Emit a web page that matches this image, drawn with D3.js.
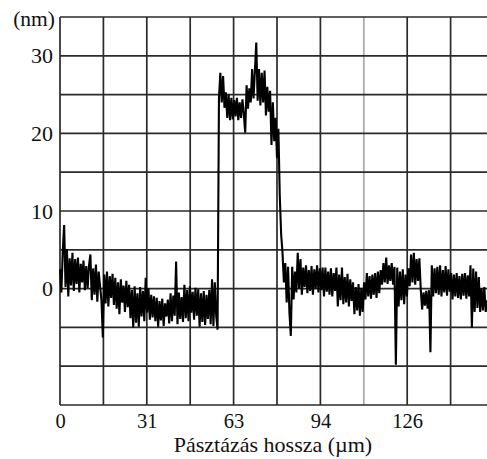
<!DOCTYPE html>
<html><head><meta charset="utf-8">
<script src="https://cdn.jsdelivr.net/npm/d3@7"></script>
<style>
html,body{margin:0;padding:0;background:#fff;overflow:hidden;}
svg{display:block;font-family:"Liberation Serif","Times New Roman",serif;}
</style></head>
<body>
<svg id="chart" width="487" height="459"></svg>
<script>
// ---- data ----
const xStep = 0.5;          // µm between samples
const xStart = 0;
const heights = [
 2.5,-0.5,4.8,8.2,0.2,5.1,-1.0,3.9,0.4,4.6,
 -0.3,3.8,0.6,4.0,-0.5,3.2,0.8,3.6,-0.2,2.9,
 0.1,3.0,4.4,-1.5,2.6,-0.8,3.1,-1.7,2.2,0.3,
 -1.5,-6.3,1.8,-1.9,2.2,-2.3,1.6,-1.2,1.9,-2.1,
 1.4,-2.6,0.8,-3.3,1.2,-1.8,0.4,-3.0,1.0,-2.4,
 0.5,-3.8,-0.2,-5.0,0.3,-4.4,-0.6,-4.9,0.2,-3.6,
 -0.3,-4.2,1.4,-3.1,0.0,-4.0,-0.8,-3.7,-1.0,-4.2,
 -1.2,-4.9,-1.6,-4.1,-1.3,-4.8,-1.9,-3.6,-1.4,-4.5,
 -0.6,-4.2,-0.9,-3.5,3.5,-4.6,-0.5,-3.9,-1.1,-4.3,
 0.5,-3.8,-0.2,-4.2,0.3,-3.1,-0.4,-4.0,0.1,-3.5,
 -0.1,-4.9,-0.6,-4.3,-0.3,-4.7,-0.8,-3.9,-0.2,-4.6,
 1.2,-4.8,0.8,-3.5,-5.3,
 24.5,27.8,24.0,27.4,23.3,
 25.3,22.0,25.0,21.7,24.6,
 21.8,24.3,22.2,24.6,21.7,24.0,22.0,24.4,22.5,
 20.1,
 26.2,23.2,25.8,
 24.0,28.3,24.5,28.0,31.7,24.2,
 28.3,23.6,27.8,24.0,28.1,
 22.3,26.0,22.8,25.5,
 18.5,24.0,19.0,22.0,
 16.8,20.6,
 12.0,7.0,4.6,
 0.8,3.3,-1.8,2.8,-3.1,
 -6.1,
 2.8,-1.4,2.2,
 -0.5,4.6,0.0,3.8,
 -0.8,2.7,0.2,3.0,-0.6,2.4,-0.3,2.9,-0.8,2.5,0.0,3.0,-0.5,2.6,-0.2,2.7,
 -1.0,2.7,-0.4,2.2,-0.8,2.6,-1.0,2.0,-0.3,2.7,
 -2.3,1.8,-1.5,2.7,-2.0,1.5,-1.8,1.9,-2.3,1.2,-1.6,
 0.8,-3.3,0.2,-2.8,0.6,-3.5,0.1,-3.0,0.8,
 -1.4,2.0,-1.0,1.6,-1.3,1.8,-0.8,2.0,-1.2,2.2,-0.6,2.4,
 0.5,3.3,0.8,4.0,0.6,3.0,1.0,3.3,0.5,2.8,
 -9.8,
 2.7,-2.3,2.2,-1.5,2.5,-2.0,1.8,-1.0,2.6,
 0.3,4.4,0.8,4.6,0.5,3.8,1.0,3.9,
 -0.1,-2.7,-0.5,-2.2,-0.3,-2.6,-0.2,-8.2,
 3.0,-1.0,2.6,-0.6,2.8,-0.8,3.0,-1.0,2.4,-0.5,2.9,-0.9,2.5,-0.4,2.0,
 -1.4,1.8,-1.0,2.0,-1.2,1.6,-1.4,1.9,-0.9,2.0,-1.3,1.7,-1.0,
 3.0,-5.0,2.6,-3.0,2.2,-2.5,1.5,-3.0,0.0,-2.8,0.2,-3.0,-1.5
];
const xTickValues = [0, 31.4, 62.8, 94.2, 125.6];
const xTickLabels = ["0", "31", "63", "94", "126"];
const yTickValues = [0, 10, 20, 30];
const yTickLabels = ["0", "10", "20", "30"];
const xDomain = [0, 157];
const yDomain = [-15, 35];
const xGridStep = 15.7;
const yGridStep = 5;
const yUnit = "(nm)";
const xTitle = "Pásztázás hossza (µm)";

// ---- drawing ----
const svg = d3.select("#chart");
const L = 60, R = 494, T = 17, B = 405;
const x = d3.scaleLinear().domain(xDomain).range([L, R]);
const y = d3.scaleLinear().domain(yDomain).range([B, T]);

const xGrid = d3.range(0, 11).map(i => i * xGridStep);
const yGrid = d3.range(0, 11).map(i => yDomain[0] + i * yGridStep);

const g = svg.append("g");
g.selectAll("line.vg").data(xGrid).join("line")
  .attr("x1", d => x(d)).attr("x2", d => x(d))
  .attr("y1", T).attr("y2", B)
  .attr("stroke", (d, i) => i === 7 ? "#a8a8a8" : "#2a2a2a")
  .attr("stroke-width", 1.7);
g.selectAll("line.hg").data(yGrid).join("line")
  .attr("x1", L).attr("x2", R)
  .attr("y1", d => y(d)).attr("y2", d => y(d))
  .attr("stroke", "#2a2a2a").attr("stroke-width", 1.7);

// trace
const pts = heights.map((h, i) => [xStart + i * xStep, h]);
svg.append("path").datum(pts)
  .attr("fill", "none").attr("stroke", "#000").attr("stroke-width", 2.1)
  .attr("stroke-linejoin", "bevel")
  .attr("d", d3.line().x(d => x(d[0])).y(d => y(d[1])));

// x axis labels
const xAxis = d3.axisBottom(x).tickValues(xTickValues)
  .tickFormat((d, i) => xTickLabels[i]).tickSize(0).tickPadding(8);
const xa = svg.append("g").attr("transform", `translate(0,${B})`).call(xAxis);
xa.select(".domain").remove();
xa.selectAll("text").attr("font-size", 20.5).attr("fill", "#111")
  .attr("font-family", "Liberation Serif, serif");

// y axis labels
const yAxis = d3.axisLeft(y).tickValues(yTickValues)
  .tickFormat((d, i) => yTickLabels[i]).tickSize(0).tickPadding(7);
const ya = svg.append("g").attr("transform", `translate(${L},0)`).call(yAxis);
ya.select(".domain").remove();
ya.selectAll("text").attr("font-size", 22).attr("fill", "#111")
  .attr("font-family", "Liberation Serif, serif");

svg.append("text").attr("x", 55).attr("y", 26).attr("text-anchor", "end")
  .attr("font-size", 21.5).attr("fill", "#111").text(yUnit);
svg.append("text").attr("x", 273).attr("y", 452).attr("text-anchor", "middle")
  .attr("font-size", 22).attr("fill", "#111").text(xTitle);
</script>
</body></html>
